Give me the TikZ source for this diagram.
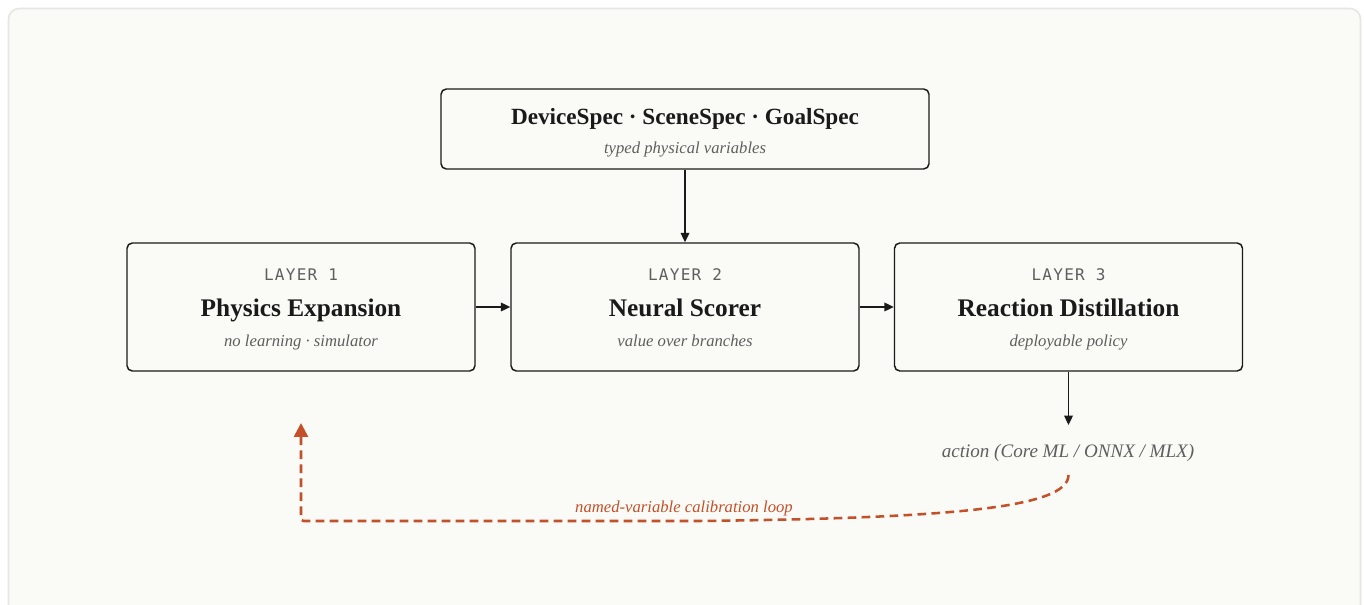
\documentclass[tikz,border=0pt]{standalone}
\usepackage{fontspec}
\setmainfont{Liberation Serif}
\newfontfamily\monofont[LetterSpace=8]{DejaVu Sans Mono}
\usetikzlibrary{arrows.meta}
\definecolor{bgc}{HTML}{FAFAF6}
\definecolor{framec}{HTML}{E6E6E3}
\definecolor{inkc}{HTML}{1A1A1A}
\definecolor{grayc}{HTML}{5E5E5E}
\definecolor{orangec}{HTML}{C4502A}
\tikzset{
  box/.style={draw=inkc, line width=1.1pt, rounded corners=4pt, fill=bgc, minimum width=348*0.75pt, minimum height=128*0.75pt, inner sep=0pt},
  topbox/.style={box, minimum width=488*0.75pt, minimum height=80*0.75pt},
  txt/.style={anchor=base, inner sep=0pt},
  layertxt/.style={txt, font=\monofont\fontsize{12}{14}\selectfont, text=grayc},
  titletxt/.style={txt, font=\bfseries\fontsize{17.4}{20}\selectfont, text=inkc},
  bigtitletxt/.style={txt, font=\bfseries\fontsize{19}{22}\selectfont, text=inkc},
  subtxt/.style={txt, font=\itshape\fontsize{12.5}{15}\selectfont, text=grayc},
  conn/.style={draw=inkc, line width=0.9pt, -{Triangle[length=7pt,width=6.5pt]}},
  loop/.style={draw=orangec, line width=1.9pt, dash pattern=on 6.5pt off 4pt, -{Triangle[length=10.5pt,width=10.5pt]}}
}
\begin{document}
\begin{tikzpicture}[x=0.75pt,y=-0.75pt]
\useasboundingbox (0,0) rectangle (1364,605);
\fill[white] (0,0) rectangle (1364,605);
\draw[framec, fill=bgc, line width=1.2pt, rounded corners=8pt] (8.5,8.5) -- (1360.5,8.5) -- (1360.5,620) -- (8.5,620) -- cycle;

\node[topbox] (spec) at (685,129) {};
\node[titletxt] (spect) at (685,125) {DeviceSpec · SceneSpec · GoalSpec};
\node[subtxt] (specs) at (685,154) {typed physical variables};

\node[box] (l1) at (301,307) {};
\node[box] (l2) at (685,307) {};
\node[box] (l3) at (1068.5,307) {};

\foreach \n/\x/\t/\s in {1/301/Physics Expansion/no learning · simulator, 2/685/Neural Scorer/value over branches, 3/1068.5/Reaction Distillation/deployable policy}{
  \node[layertxt] (lab\n) at (\x,281) {LAYER \n};
  \node[bigtitletxt] (tit\n) at (\x,317) {\t};
  \node[subtxt] (sub\n) at (\x,347) {\s};
}

\draw[conn] (spec.south) -- (l2.north);
\draw[conn] (l1.east) -- (l2.west);
\draw[conn] (l2.east) -- (l3.west);

\node[subtxt, font=\itshape\fontsize{14.3}{17}\selectfont] (act) at (1068,458) {action (Core ML / ONNX / MLX)};
\coordinate (acttip) at (1068.5,425);
\draw[conn] (l3.south) -- (l3.south |- acttip);

\coordinate (lstart) at (1068.5,475);
\coordinate (lcorner) at (301,521);
\coordinate (lend) at (301,423);
\draw[loop, rounded corners=2pt] (lstart) .. controls (1068.5,508) and (950,518) .. (700,521) -- (lcorner) -- (lend);
\node[txt, font=\itshape\fontsize{12.5}{15}\selectfont, text=orangec] (looplab) at (684,513) {named-variable calibration loop};
\end{tikzpicture}
\end{document}
